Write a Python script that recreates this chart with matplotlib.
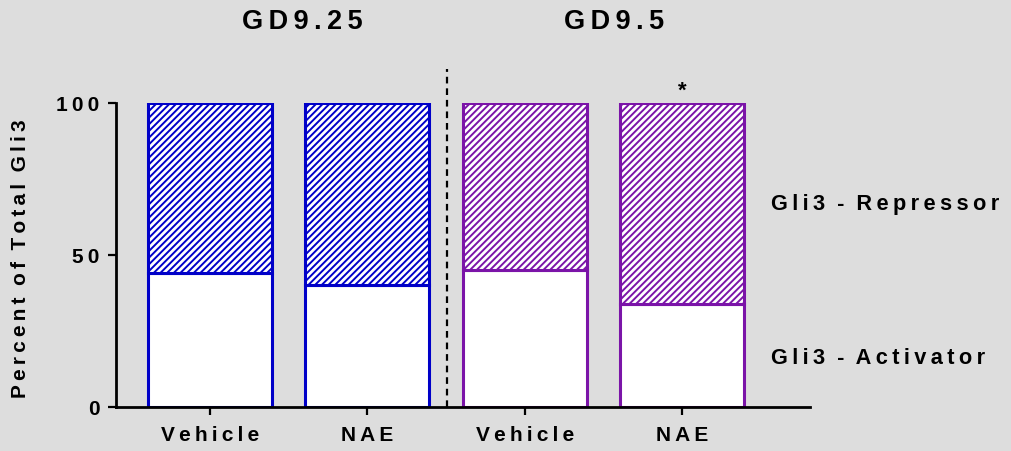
import matplotlib
matplotlib.use("Agg")
import matplotlib.pyplot as plt
import numpy as np

# Data: percent of total Gli3 in activator form; repressor fills the rest to 100
groups = ["GD9.25", "GD9.5"]
categories = ["Vehicle", "NAE", "Vehicle", "NAE"]
activator = [44, 40, 45, 34]
repressor = [100 - a for a in activator]
bar_colors = ["#0000c8", "#0000c8", "#7b14a8", "#7b14a8"]
y_ticks = [0, 50, 100]
significant = [False, False, False, True]

BG = "#dddddd"
SP = "\u2009"


def spaced(s):
    """Letter-spaced label text."""
    return SP.join(s).replace(SP + " " + SP, "  ")


plt.rcParams["font.family"] = ["Liberation Sans", "DejaVu Sans"]
plt.rcParams["font.weight"] = "bold"
plt.rcParams["hatch.linewidth"] = 1.4

fig = plt.figure(figsize=(10.11, 4.52), dpi=100, facecolor=BG)
ax = fig.add_axes([116 / 1011, 1 - 408 / 452, (810 - 116) / 1011, (408 - 104) / 452])
ax.set_facecolor(BG)

x = np.arange(len(categories))
width = 0.79

for xi, a, r, c in zip(x, activator, repressor, bar_colors):
    ax.bar(xi, a, width=width, color="white", edgecolor=c, linewidth=2.2, zorder=2)
    ax.bar(xi, r, width=width, bottom=a, color="white", edgecolor=c,
           linewidth=2.2, hatch="/////", zorder=2)

ax.set_xlim(-0.598, 3.814)
ax.set_ylim(0, 100)

for s in ["top", "right"]:
    ax.spines[s].set_visible(False)
ax.spines["left"].set_linewidth(2.0)
ax.spines["bottom"].set_linewidth(2.0)

ax.set_yticks(y_ticks)
ax.set_yticklabels([spaced(str(t)) for t in y_ticks])
ax.set_xticks(x)
ax.set_xticklabels([spaced(c) for c in categories])
ax.tick_params(axis="both", direction="out", length=6, width=1.6,
               labelsize=15, pad=6)
ax.tick_params(axis="x", pad=7)

ax.set_ylabel(spaced("Percent of Total Gli3"), fontsize=15, fontweight="bold")
ax.yaxis.set_label_coords(-0.124, 0.49)

# Group separator
ax.plot([1.507, 1.507], [0, 111.2], color="black", linestyle=(0, (3, 2.2)),
        linewidth=1.6, clip_on=False, zorder=3)

# Group headers
for gx, g in zip([0.585, 2.57], groups):
    ax.text(gx, 127, spaced(g), ha="center", va="center", fontsize=19.5,
            fontweight="bold", clip_on=False)

# Significance marks
for xi, sig in zip(x, significant):
    if sig:
        ax.text(xi, 104.3, "*", ha="center", va="center", fontsize=16,
                fontweight="bold", clip_on=False)

# Segment labels
ax.text(3.566, 66.8, spaced("Gli3 - Repressor"), ha="left", va="center",
        fontsize=15.7, fontweight="bold", clip_on=False)
ax.text(3.566, 16.4, spaced("Gli3 - Activator"), ha="left", va="center",
        fontsize=15.7, fontweight="bold", clip_on=False)

fig.savefig("out.png", dpi=100, facecolor=BG)
